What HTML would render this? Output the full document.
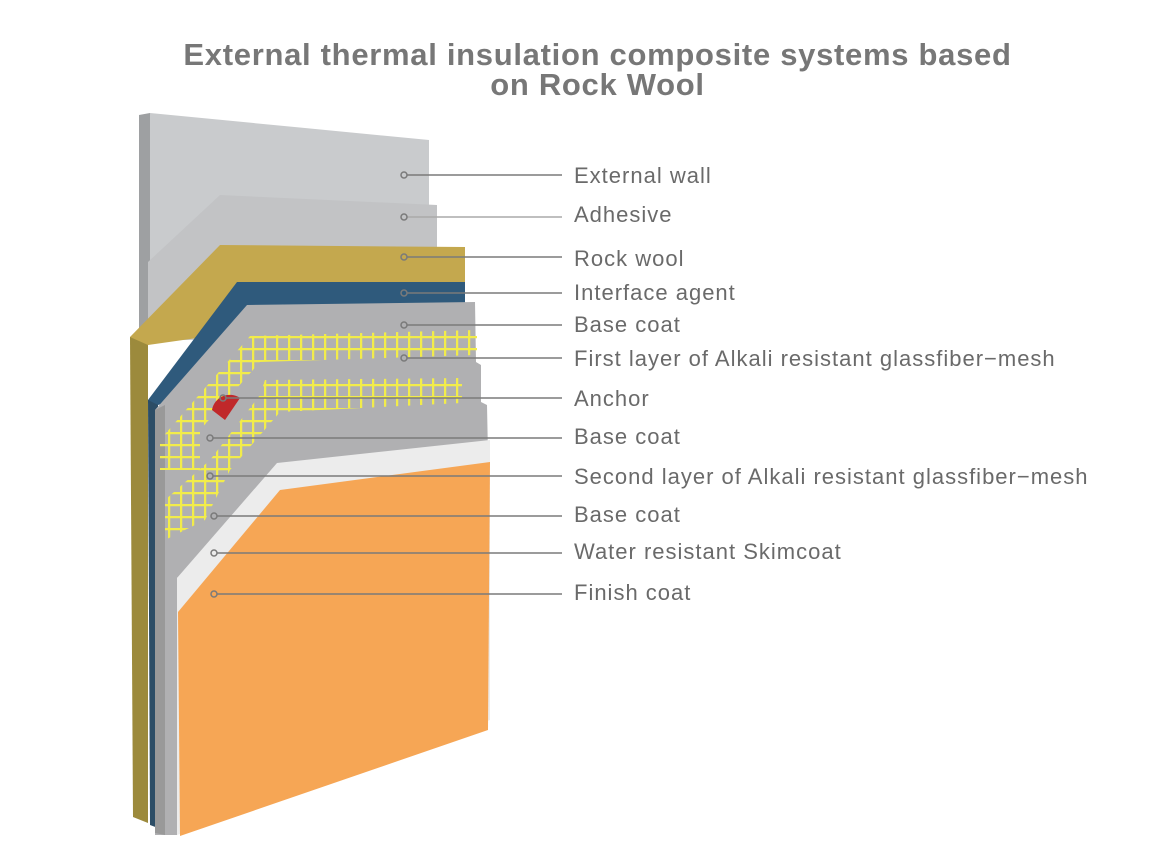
<!DOCTYPE html>
<html><head><meta charset="utf-8"><style>
html,body{margin:0;padding:0;background:#fff;}
body{width:1151px;height:857px;overflow:hidden;position:relative;font-family:"Liberation Sans",sans-serif;}
.t{position:absolute;left:0;width:1195px;text-align:center;color:#777;font-size:31px;line-height:31px;font-weight:bold;letter-spacing:0.7px;}
.l{position:absolute;left:574px;color:#6a6a6a;font-size:22px;line-height:22px;letter-spacing:1px;white-space:nowrap;}
</style></head><body>
<div class="t" style="top:39px">External thermal insulation composite systems based</div>
<div class="t" style="top:69px">on Rock Wool</div>
<svg width="1151" height="857" style="position:absolute;left:0;top:0">
<defs>
<pattern id="mesh" width="12" height="12" patternUnits="userSpaceOnUse">
<rect width="12" height="12" fill="none"/><path d="M0 1H12M1 0V12" stroke="#f2ec4a" stroke-width="2.5"/>
</pattern>
</defs>
<polygon points="139,115 150,113 150,340 139,340" fill="#9ea0a2"/>
<polygon points="150,113 429,140 429,340 150,340" fill="#c9cbcd"/>
<polygon points="148,262 220,195 437,205 437,300 148,340" fill="#c2c3c5"/>
<polygon points="130,337 148,337 148,823 133,817" fill="#9c8a3c"/>
<polygon points="130,337 220,245 465,247 465,300 148,345" fill="#c4a84e"/>
<polygon points="148,400 158,400 158,828 150,825" fill="#2c4d66"/>
<polygon points="148,400 237,282 465,282 465,310 158,405" fill="#2f5a7c"/>
<polygon points="155,410 247,305 475,302 476,362 481,365 481,402 487,405 488,455 300,465 177,578 177,835 155,835" fill="#b0b0b2"/>
<polygon points="155,410 165,405 165,835 155,833" fill="#999"/>
<polygon points="160,470 160,440 250,336 477,330 477,355 260,362 200,430 200,470" fill="url(#mesh)"/>
<polygon points="165,540 165,500 210,460 260,395 265,380 462,378 462,403 280,412 230,470 205,520" fill="url(#mesh)"/>
<path d="M212,410 A18,18 0 0 1 240,398 L225,420 Z" fill="#c0282a"/>
<polygon points="177,578 277,463 490,440 490,720 177,835" fill="#ececec"/>
<polygon points="178,612 280,490 490,462 488,730 180,836" fill="#f6a655"/>
<g stroke="#7a7a7a" stroke-width="1.5" fill="none">
<line x1="407" y1="175" x2="562" y2="175"/>
<line x1="407" y1="217" x2="562" y2="217" stroke="#aaa"/>
<line x1="407" y1="257" x2="562" y2="257"/>
<line x1="407" y1="293" x2="562" y2="293"/>
<line x1="407" y1="325" x2="562" y2="325"/>
<line x1="407" y1="358" x2="562" y2="358"/>
<line x1="226" y1="398" x2="562" y2="398"/>
<line x1="213" y1="438" x2="562" y2="438"/>
<line x1="213" y1="476" x2="562" y2="476"/>
<line x1="217" y1="516" x2="562" y2="516"/>
<line x1="217" y1="553" x2="562" y2="553"/>
<line x1="217" y1="594" x2="562" y2="594"/>
<circle cx="404" cy="175" r="3"/><circle cx="404" cy="217" r="3"/><circle cx="404" cy="257" r="3"/>
<circle cx="404" cy="293" r="3"/><circle cx="404" cy="325" r="3"/><circle cx="404" cy="358" r="3"/>
<circle cx="223" cy="398" r="3"/><circle cx="210" cy="438" r="3"/><circle cx="210" cy="476" r="3"/>
<circle cx="214" cy="516" r="3"/><circle cx="214" cy="553" r="3"/><circle cx="214" cy="594" r="3"/>
</g>
</svg>
<div class="l" style="top:165px">External wall</div>
<div class="l" style="top:204px">Adhesive</div>
<div class="l" style="top:248px">Rock wool</div>
<div class="l" style="top:282px">Interface agent</div>
<div class="l" style="top:314px">Base coat</div>
<div class="l" style="top:348px">First layer of Alkali resistant glassfiber−mesh</div>
<div class="l" style="top:388px">Anchor</div>
<div class="l" style="top:426px">Base coat</div>
<div class="l" style="top:466px">Second layer of Alkali resistant glassfiber−mesh</div>
<div class="l" style="top:504px">Base coat</div>
<div class="l" style="top:541px">Water resistant Skimcoat</div>
<div class="l" style="top:582px">Finish coat</div>
</body></html>
